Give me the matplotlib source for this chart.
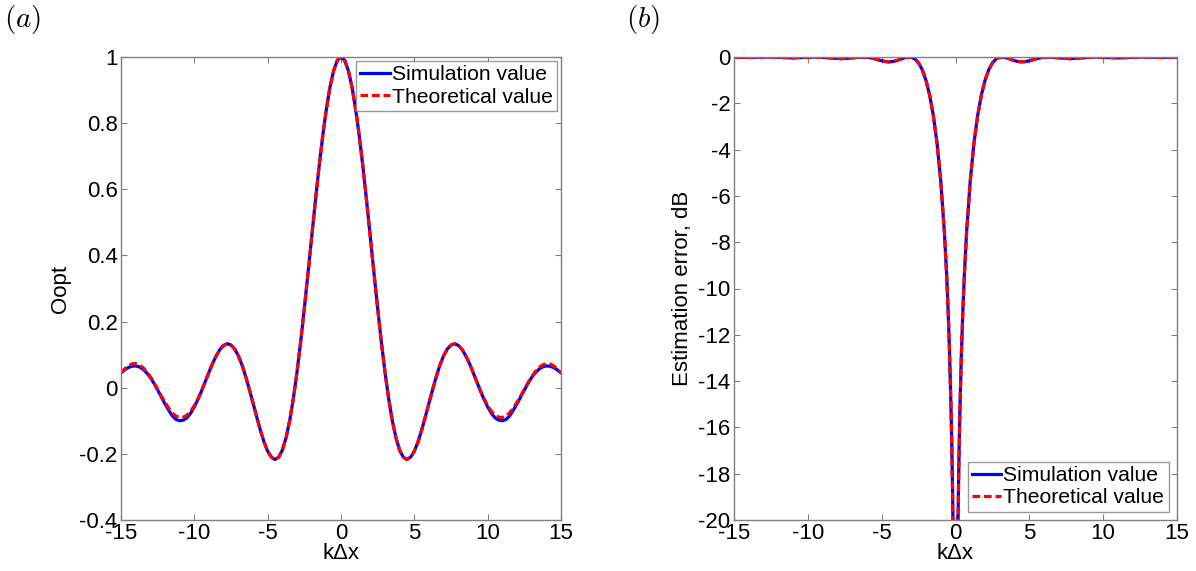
import numpy as np
import matplotlib.pyplot as plt

plt.rcParams['font.family'] = ['Liberation Sans', 'DejaVu Sans']
plt.rcParams['mathtext.fontset'] = 'cm'
plt.rcParams['axes.unicode_minus'] = False

# values for k*dx >= 0 (curves are symmetric)
x_half = np.arange(0, 15.01, 0.25)
oopt_theory = [1.000, 0.990, 0.959, 0.909, 0.842, 0.760, 0.666, 0.563, 0.455, 0.346,
               0.240, 0.139, 0.047, -0.033, -0.100, -0.152, -0.189, -0.210, -0.217, -0.210,
               -0.192, -0.164, -0.128, -0.088, -0.046, -0.005, 0.034, 0.069, 0.097, 0.117,
               0.129, 0.133, 0.128, 0.116, 0.097, 0.074, 0.047, 0.019, -0.008, -0.033,
               -0.054, -0.071, -0.083, -0.089, -0.090, -0.086, -0.076, -0.061, -0.044, -0.025,
               -0.005, 0.015, 0.033, 0.049, 0.061, 0.069, 0.073, 0.072, 0.066, 0.057, 0.045]
oopt_sim = [1.000, 0.990, 0.959, 0.909, 0.842, 0.760, 0.666, 0.563, 0.455, 0.346,
            0.240, 0.139, 0.047, -0.033, -0.100, -0.152, -0.189, -0.210, -0.217, -0.210,
            -0.192, -0.164, -0.128, -0.088, -0.046, -0.005, 0.034, 0.069, 0.097, 0.117,
            0.129, 0.133, 0.128, 0.116, 0.097, 0.074, 0.047, 0.019, -0.009, -0.035,
            -0.058, -0.077, -0.091, -0.098, -0.100, -0.096, -0.085, -0.068, -0.049, -0.028,
            -0.007, 0.013, 0.031, 0.045, 0.056, 0.063, 0.066, 0.065, 0.061, 0.054, 0.045]

x_err_half = [0.0, 0.1, 0.15, 0.2, 0.25, 0.3, 0.4, 0.5, 0.6, 0.75, 1.0, 1.25, 1.5, 1.75,
              2.0, 2.25, 2.5, 2.75, 3.0, 3.25, 3.5, 3.75, 4.0, 4.25, 4.5, 4.75, 5.0,
              5.25, 5.5, 5.75, 6.0, 6.5, 7.0, 7.75, 8.5, 9.5, 11.0, 12.5, 14.0, 15.0]
err_theory = [-40.0, -24.78, -21.26, -18.77, -16.85, -15.28, -12.82, -10.94, -9.42, -7.59,
              -5.35, -3.73, -2.54, -1.65, -1.01, -0.553, -0.256, -0.085, -0.010, -0.005,
              -0.044, -0.102, -0.158, -0.197, -0.210, -0.197, -0.163, -0.118, -0.072, -0.034,
              -0.009, -0.005, -0.038, -0.072, -0.038, 0.0, -0.036, 0.0, -0.022, -0.008]
err_sim = [-40.0, -24.6, -21.2, -18.7, -16.8, -15.25, -12.8, -10.92, -9.40, -7.58,
           -5.34, -3.72, -2.53, -1.65, -1.01, -0.553, -0.256, -0.085, -0.010, -0.005,
           -0.044, -0.102, -0.158, -0.197, -0.210, -0.197, -0.163, -0.118, -0.072, -0.034,
           -0.009, -0.005, -0.038, -0.072, -0.038, 0.0, -0.040, 0.0, -0.019, -0.008]


def mirror(x, y):
    x = np.asarray(x, float)
    y = np.asarray(y, float)
    return np.concatenate([-x[:0:-1], x]), np.concatenate([y[:0:-1], y])


fig = plt.figure(figsize=(11.96, 5.71), dpi=100)
ax1 = fig.add_axes([121 / 1196, 51 / 571, 440 / 1196, 463 / 571])
ax2 = fig.add_axes([734 / 1196, 51 / 571, 443 / 1196, 463 / 571])

fs = 16
lfs = 15.2
for ax in (ax1, ax2):
    ax.tick_params(direction='in', top=True, right=True, length=4, width=0.8,
                   color='#808080', labelsize=fs, pad=2.5)
    for s in ax.spines.values():
        s.set_color('#808080')
        s.set_linewidth(1.0)
    ax.set_xlim(-15, 15)
    ax.set_xticks(range(-15, 16, 5))
    ax.set_xlabel('k\u0394x', fontsize=fs, labelpad=-1)

# (a)
xs, ys = mirror(x_half, oopt_sim)
xt, yt = mirror(x_half, oopt_theory)
ax1.plot(xs, ys, color='blue', lw=2.3, label='Simulation value')
ax1.plot(xt, yt, color='red', lw=2.3, dashes=(2.4, 1.2), label='Theoretical value')
ax1.set_ylim(-0.4, 1)
ax1.set_yticks(np.round(np.arange(-0.4, 1.01, 0.2), 1))
ax1.set_yticklabels(['-0.4', '-0.2', '0', '0.2', '0.4', '0.6', '0.8', '1'])
ax1.set_ylabel('Oopt', fontsize=fs, labelpad=6)
leg1 = ax1.legend(loc='upper right', fontsize=lfs, handlelength=1.4, handletextpad=0.1,
                  borderpad=0.2, labelspacing=0.15, borderaxespad=0.2, fancybox=False)
leg1.get_frame().set_edgecolor('#808080')
leg1.get_frame().set_linewidth(1.0)

# (b)
xs, ys = mirror(x_err_half, err_sim)
xt, yt = mirror(x_err_half, err_theory)
ax2.plot(xs, ys, color='blue', lw=2.3, label='Simulation value')
ax2.plot(xt, yt, color='red', lw=2.3, dashes=(2.4, 1.2), label='Theoretical value')
ax2.set_ylim(-20, 0)
ax2.set_yticks(range(-20, 1, 2))
ax2.set_ylabel('Estimation error, dB', fontsize=fs, labelpad=4)
leg2 = ax2.legend(loc='lower right', fontsize=lfs, handlelength=1.4, handletextpad=0.1,
                  borderpad=0.2, labelspacing=0.15, borderaxespad=0.4, fancybox=False)
leg2.get_frame().set_edgecolor('#808080')
leg2.get_frame().set_linewidth(1.0)

fig.text(4 / 1196, 1 - 20 / 571, '$(a)$', fontsize=21, va='center', ha='left')
fig.text(626 / 1196, 1 - 20 / 571, '$(b)$', fontsize=21, va='center', ha='left')

fig.savefig('out.png', dpi=100)
